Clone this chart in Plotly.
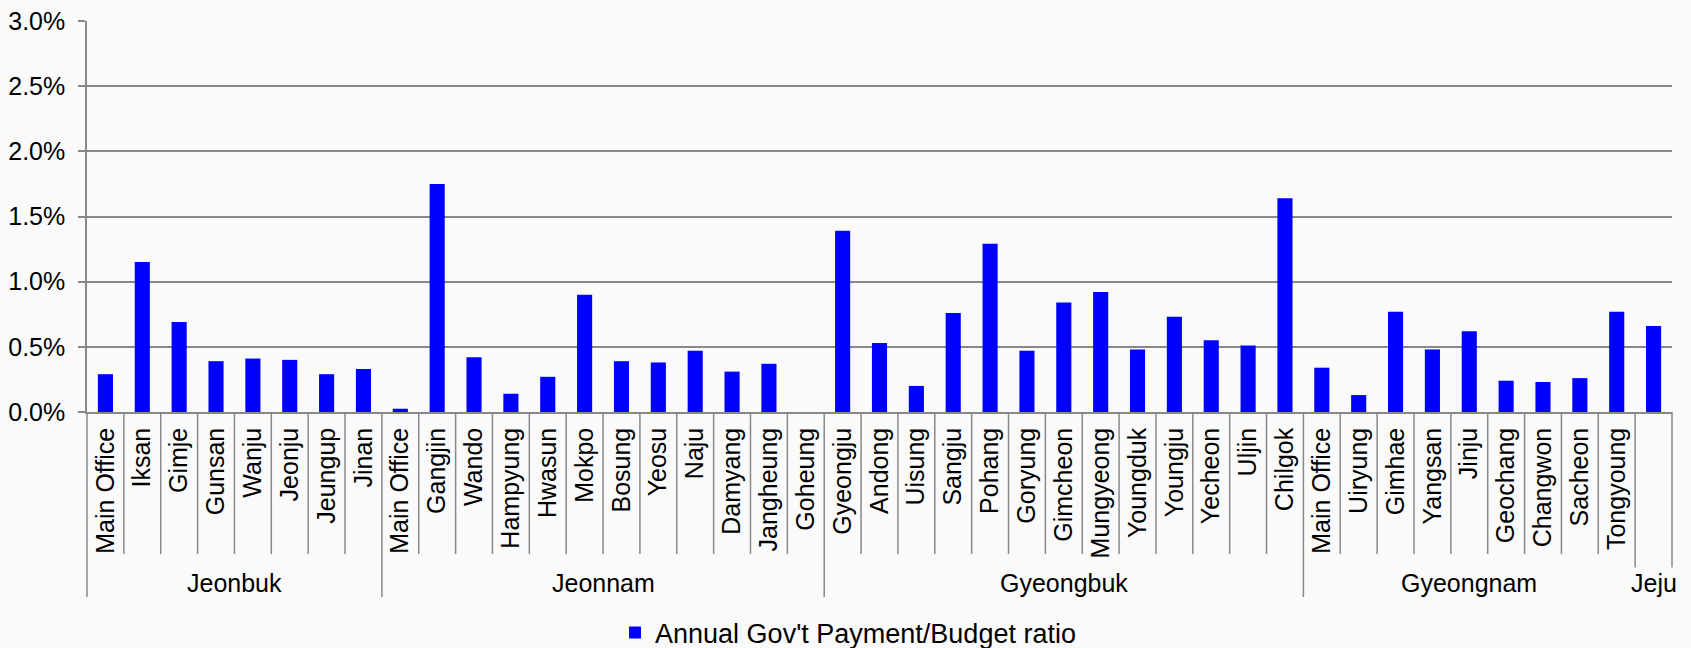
import plotly.graph_objects as go

# ---- data ----
groups = ["Jeonbuk", "Jeonnam", "Gyeongbuk", "Gyeongnam", "Jeju"]
jeonbuk_offices = ["Main Office", "Iksan", "Gimje", "Gunsan", "Wanju", "Jeonju", "Jeungup", "Jinan"]
jeonbuk_values = [0.29, 1.15, 0.69, 0.39, 0.41, 0.40, 0.29, 0.33]
jeonnam_offices = ["Main Office", "Gangjin", "Wando", "Hampyung", "Hwasun", "Mokpo", "Bosung",
                   "Yeosu", "Naju", "Damyang", "Jangheung", "Goheung"]
jeonnam_values = [0.025, 1.75, 0.42, 0.14, 0.27, 0.90, 0.39, 0.38, 0.47, 0.31, 0.37, 0.0]
gyeongbuk_offices = ["Gyeongju", "Andong", "Uisung", "Sangju", "Pohang", "Goryung", "Gimcheon",
                     "Mungyeong", "Youngduk", "Youngju", "Yecheon", "Uljin", "Chilgok"]
gyeongbuk_values = [1.39, 0.53, 0.20, 0.76, 1.29, 0.47, 0.84, 0.92, 0.48, 0.73, 0.55, 0.51, 1.64]
gyeongnam_offices = ["Main Office", "Uiryung", "Gimhae", "Yangsan", "Jinju", "Geochang",
                     "Changwon", "Sacheon", "Tongyoung"]
gyeongnam_values = [0.34, 0.13, 0.77, 0.48, 0.62, 0.24, 0.23, 0.26, 0.77]
jeju_offices = [""]
jeju_values = [0.66]
series_name = "Annual Gov't Payment/Budget ratio"
y_tick_values = [0, 0.5, 1.0, 1.5, 2.0, 2.5, 3.0]
y_tick_labels = ["0.0%", "0.5%", "1.0%", "1.5%", "2.0%", "2.5%", "3.0%"]

group_offices = [jeonbuk_offices, jeonnam_offices, gyeongbuk_offices, gyeongnam_offices, jeju_offices]
group_values = [jeonbuk_values, jeonnam_values, gyeongbuk_values, gyeongnam_values, jeju_values]

labels, values = [], []
for offs, vals in zip(group_offices, group_values):
    labels += offs
    values += vals
N = len(values)
xs = list(range(N))

FONT = "Liberation Sans, Arial, sans-serif"
BG = "#fafafa"
GRID = "#888888"

fig = go.Figure()
fig.add_trace(go.Bar(
    x=xs, y=values, name=series_name,
    marker=dict(color="#0000ff", line=dict(width=0)),
    showlegend=True,
))

W, H = 1691, 648
ML, MR, MT, MB = 87, 19, 21, 236
plot_h = H - MT - MB

def py(px_below):
    return -px_below / plot_h

shapes = []
starts = [0]
for offs in group_offices:
    starts.append(starts[-1] + len(offs))
group_bounds = set(starts)
for b in range(N + 1):
    y1 = py(185) if b in group_bounds else py(142)
    shapes.append(dict(type="line", xref="paper", yref="paper",
                       x0=b / N, x1=b / N, y0=0, y1=y1,
                       line=dict(color=GRID, width=1.5), layer="below"))

annotations = []
for g, offs, s in zip(groups, group_offices, starts):
    mid = s + (len(offs) - 1) / 2
    annotations.append(dict(x=mid, xref="x", y=py(171), yref="paper",
                            text=g, showarrow=False, xanchor="center", yanchor="middle",
                            font=dict(family=FONT, size=25, color="#000000"),
                            bgcolor=BG, borderpad=1))

fig.update_layout(
    width=W, height=H,
    margin=dict(l=ML, r=MR, t=MT, b=MB, pad=0, autoexpand=False),
    paper_bgcolor=BG, plot_bgcolor=BG,
    font=dict(family=FONT, size=25, color="#000000"),
    bargap=0.59,
    shapes=shapes,
    annotations=annotations,
    legend=dict(orientation="h", xref="container", yref="container",
                x=0.5015, xanchor="center", y=1 - 633 / H, yanchor="middle",
                font=dict(family=FONT, size=27, color="#000000"),
                bgcolor="rgba(0,0,0,0)", itemwidth=30),
    xaxis=dict(range=[-0.5, N - 0.5], tickmode="array", tickvals=xs, ticktext=labels,
               tickangle=-90, ticks="", showgrid=False, zeroline=False,
               showline=True, linecolor=GRID, linewidth=1.5, automargin=False,
               tickfont=dict(family=FONT, size=25, color="#000000"),
               ticklabelstandoff=4, fixedrange=True),
    yaxis=dict(range=[0, 3.0], tickmode="array", tickvals=y_tick_values, ticktext=y_tick_labels,
               showgrid=True, gridcolor=GRID, gridwidth=1.5,
               zeroline=False, showline=True, linecolor=GRID, linewidth=1.5, automargin=False,
               ticks="outside", ticklen=7, tickcolor=GRID, tickwidth=1.5,
               tickfont=dict(family=FONT, size=25, color="#000000"),
               ticklabelstandoff=8, fixedrange=True),
)

fig.write_html(
    "out.html",
    config={"displayModeBar": False},
    post_script="document.body.style.margin='0';document.body.style.background='#fafafa';",
)
